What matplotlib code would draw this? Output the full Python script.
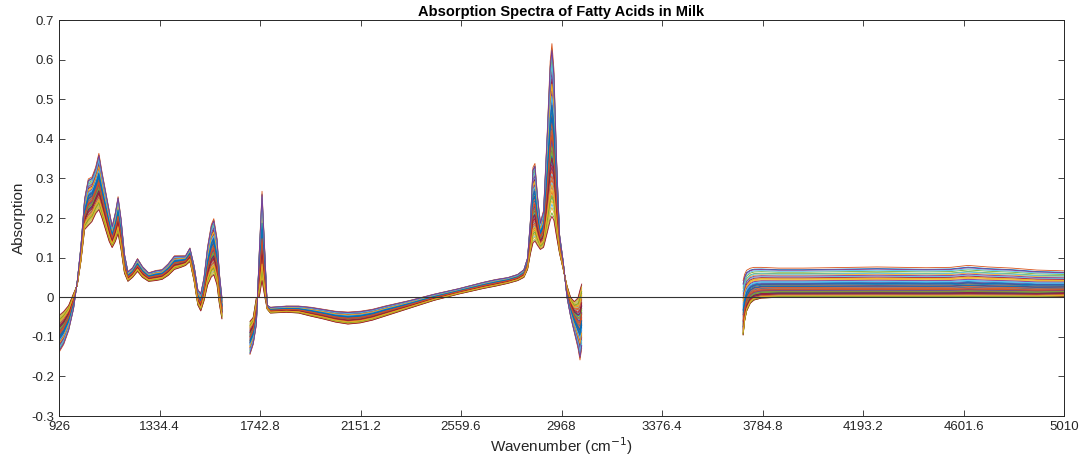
import numpy as np
import matplotlib
matplotlib.use('Agg')
import matplotlib.pyplot as plt
from matplotlib.ticker import FuncFormatter

plt.rcParams['font.family'] = ['Liberation Sans', 'DejaVu Sans']

# band 1 (fingerprint region): edges of the bundle
# ("up" = edge followed by the samples that peak highest)
wn1 = [926, 945, 965, 985, 1000, 1015, 1030, 1045, 1060, 1075, 1088, 1100, 1115, 1130,
       1142, 1155, 1166, 1178, 1192, 1206, 1225, 1245, 1265, 1290, 1320, 1345, 1370,
       1395, 1420, 1440, 1458, 1475, 1490, 1502, 1515, 1530, 1545, 1555, 1568, 1578, 1588]
up1 = [-0.14, -0.12, -0.085, -0.03, 0.04, 0.13, 0.25, 0.30, 0.305, 0.33, 0.365, 0.32, 0.27, 0.22,
       0.18, 0.215, 0.255, 0.20, 0.11, 0.065, 0.075, 0.098, 0.078, 0.062, 0.068, 0.07, 0.085,
       0.105, 0.105, 0.105, 0.125, 0.08, 0.02, 0.01, 0.05, 0.13, 0.185, 0.20, 0.15, 0.06, 0.0]
lo1 = [-0.045, -0.035, -0.02, 0.01, 0.03, 0.09, 0.17, 0.18, 0.19, 0.21, 0.22, 0.20, 0.17, 0.14,
       0.125, 0.14, 0.16, 0.12, 0.06, 0.04, 0.05, 0.065, 0.05, 0.04, 0.042, 0.045, 0.055,
       0.07, 0.075, 0.08, 0.09, 0.04, -0.02, -0.035, -0.01, 0.03, 0.05, 0.055, 0.03, -0.02, -0.055]

# band 2
wn2 = [1702, 1715, 1728, 1740, 1751, 1762, 1772, 1785, 1850, 1900, 1950, 2000, 2050, 2100,
       2150, 2200, 2250, 2300, 2350, 2400, 2450, 2500, 2550, 2600, 2650, 2700, 2750, 2790,
       2815, 2830, 2842, 2852, 2860, 2870, 2882, 2895, 2910, 2922, 2929, 2937, 2948, 2960,
       2975, 2990, 3005, 3020, 3035, 3043, 3050]
up2 = [-0.145, -0.12, -0.07, 0.12, 0.27, 0.12, -0.02, -0.025, -0.022, -0.022, -0.025, -0.03, -0.035, -0.037,
       -0.035, -0.03, -0.022, -0.015, -0.008, 0.0, 0.008, 0.015, 0.022, 0.03, 0.038, 0.045, 0.05, 0.058,
       0.07, 0.10, 0.20, 0.33, 0.34, 0.26, 0.19, 0.22, 0.42, 0.60, 0.645, 0.58, 0.35, 0.16,
       0.09, 0.0, -0.05, -0.09, -0.13, -0.16, -0.13]
lo2 = [-0.06, -0.05, 0.0, 0.0, 0.04, 0.0, -0.03, -0.04, -0.038, -0.04, -0.048, -0.055, -0.063, -0.068,
       -0.065, -0.058, -0.048, -0.038, -0.028, -0.018, -0.008, 0.0, 0.008, 0.015, 0.022, 0.028, 0.035, 0.042,
       0.05, 0.07, 0.11, 0.135, 0.14, 0.13, 0.12, 0.125, 0.16, 0.19, 0.20, 0.19, 0.15, 0.11,
       0.07, 0.03, 0.0, -0.01, 0.0, 0.02, 0.035]

# band 3
wn3 = [3706, 3712, 3720, 3735, 3750, 3780, 3850, 3950, 4050, 4150, 4250, 4350, 4450,
       4550, 4620, 4700, 4800, 4900, 5010]
up3 = [0.045, 0.06, 0.07, 0.075, 0.077, 0.077, 0.075, 0.075, 0.076, 0.077, 0.078, 0.077, 0.076,
       0.077, 0.082, 0.078, 0.075, 0.07, 0.068]
lo3 = [-0.095, -0.06, -0.035, -0.015, -0.007, -0.002, 0.0, 0.0, 0.0, 0.0, 0.0, 0.0, 0.0,
       0.0, 0.0, 0.0, 0.0, 0.0, 0.002]

# position of each sample inside the bundle
weights = [0.52, 0.18, 0.77, 0.35, 0.91, 0.08, 0.63, 0.44, 0.27, 0.85, 0.56, 0.12, 0.70, 0.39,
           0.96, 0.22, 0.60, 0.48, 0.03, 0.81, 0.31, 0.67, 0.15, 0.74, 0.42, 0.88, 0.25, 0.58,
           0.36, 0.99, 0.06, 0.65, 0.46, 0.20, 0.79, 0.33, 0.54, 0.10, 0.72, 0.41, 0.93, 0.29,
           0.61, 0.50, 0.16, 0.83, 0.38, 0.69, 0.01, 0.57, 0.24, 0.76, 0.45, 0.13, 0.87, 0.34,
           0.64, 0.47, 0.19, 0.95]

matlab_colors = ['#0072BD', '#D95319', '#EDB120', '#7E2F8E', '#77AC30', '#4DBEEE', '#A2142F']

fig = plt.figure(figsize=(10.81, 4.67), dpi=100)
ax = fig.add_axes([0.0546, 0.109, 0.9297, 0.848])

bands = [(wn1, up1, lo1, 1.0), (wn2, up2, lo2, 1.0), (wn3, up3, lo3, 1.8)]
for i, w in enumerate(weights):
    c = matlab_colors[i % len(matlab_colors)]
    for wn, up, lo, p in bands:
        up = np.array(up)
        lo = np.array(lo)
        ax.plot(wn, lo + (up - lo) * w ** p, color=c, lw=0.6)

ax.axhline(0, color='#333333', lw=0.8)

xt = [926, 1334.4, 1742.8, 2151.2, 2559.6, 2968, 3376.4, 3784.8, 4193.2, 4601.6, 5010]
ax.set_xlim(926, 5010)
ax.set_xticks(xt)
ax.set_xticklabels(['926', '1334.4', '1742.8', '2151.2', '2559.6', '2968', '3376.4',
                    '3784.8', '4193.2', '4601.6', '5010'])
ax.set_ylim(-0.3, 0.7)
ax.set_yticks(np.arange(-0.3, 0.71, 0.1))
ax.yaxis.set_major_formatter(FuncFormatter(lambda v, p: '0' if abs(v) < 1e-9 else ('%g' % round(v, 1))))

ax.tick_params(direction='in', top=True, right=True, length=4, width=0.6, labelsize=9.5, colors='#262626')
for s in ax.spines.values():
    s.set_linewidth(0.7)
    s.set_color('#262626')

ax.set_xlabel('Wavenumber (cm$^{-1}$)', fontsize=11, color='#262626', labelpad=2)
ax.set_ylabel('Absorption', fontsize=11, color='#262626', labelpad=4)
ax.set_title('Absorption Spectra of Fatty Acids in Milk', fontsize=10.5, fontweight='bold', pad=3)

fig.savefig('out.png', dpi=100)
